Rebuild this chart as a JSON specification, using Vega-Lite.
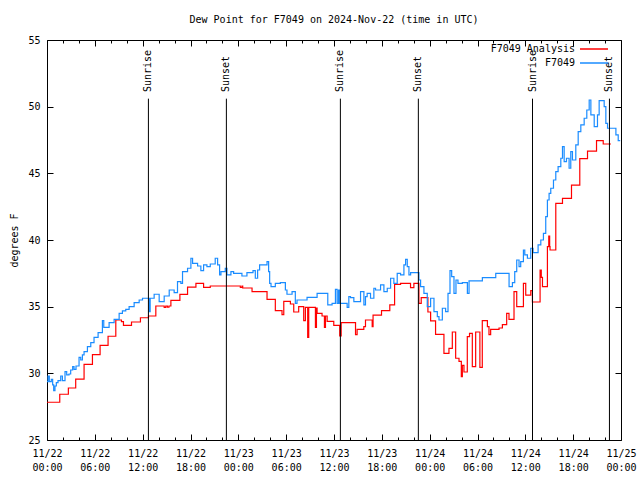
{
  "$schema": "https://vega.github.io/schema/vega-lite/v6.json",
  "width": 574,
  "height": 400,
  "autosize": {"type": "none"},
  "padding": {"left": 47, "top": 40, "right": 19, "bottom": 40},
  "background": "white",
  "config": {
    "view": {"stroke": "black", "strokeWidth": 1},
    "font": "DejaVu Sans Mono",
    "axis": {
      "labelFont": "DejaVu Sans Mono",
      "labelFontSize": 10,
      "labelColor": "black",
      "tickColor": "black",
      "tickWidth": 1,
      "domain": false,
      "grid": false,
      "titleFont": "DejaVu Sans Mono",
      "titleFontSize": 10,
      "titleFontWeight": "normal",
      "titleColor": "black"
    },
    "text": {"font": "DejaVu Sans Mono", "fontSize": 10}
  },
  "title": {
    "text": "Dew Point for F7049 on 2024-Nov-22 (time in UTC)",
    "font": "DejaVu Sans Mono",
    "fontSize": 10,
    "fontWeight": "normal",
    "color": "black",
    "offset": 10
  },
  "datasets": {
    "analysis": [
      {"t": 0, "v": 27.83}, {"t": 1.6, "v": 28.43}, {"t": 2.68, "v": 28.9}, {"t": 3.6, "v": 29.57},
      {"t": 4.65, "v": 30.67}, {"t": 5.7, "v": 31.4}, {"t": 6.66, "v": 32.1}, {"t": 7.66, "v": 32.78},
      {"t": 8.63, "v": 34.0}, {"t": 9.34, "v": 33.88}, {"t": 9.59, "v": 33.6}, {"t": 10.6, "v": 33.85},
      {"t": 11.72, "v": 34.17}, {"t": 12.73, "v": 34.3}, {"t": 13.65, "v": 35.05}, {"t": 14.7, "v": 34.95},
      {"t": 14.9, "v": 35.05}, {"t": 15.1, "v": 34.97}, {"t": 15.3, "v": 35.05}, {"t": 15.54, "v": 35.47},
      {"t": 16.67, "v": 35.92}, {"t": 17.63, "v": 36.47}, {"t": 18.68, "v": 36.75}, {"t": 19.64, "v": 36.45},
      {"t": 20.48, "v": 36.55}, {"t": 24.25, "v": 36.45}, {"t": 24.46, "v": 36.55}, {"t": 24.55, "v": 36.4},
      {"t": 25.72, "v": 36.13}, {"t": 27.6, "v": 35.55}, {"t": 28.64, "v": 34.7}, {"t": 29.48, "v": 34.4},
      {"t": 29.7, "v": 35.4}, {"t": 30.53, "v": 35.2}, {"t": 30.95, "v": 34.6}, {"t": 31.57, "v": 35.0},
      {"t": 32.2, "v": 33.95}, {"t": 32.41, "v": 34.95}, {"t": 32.7, "v": 32.7}, {"t": 32.83, "v": 34.95},
      {"t": 33.67, "v": 33.45}, {"t": 33.8, "v": 34.9}, {"t": 33.88, "v": 34.5}, {"t": 34.5, "v": 34.3},
      {"t": 34.8, "v": 33.45}, {"t": 34.93, "v": 34.3}, {"t": 35.14, "v": 33.9}, {"t": 35.97, "v": 33.6},
      {"t": 36.72, "v": 32.8}, {"t": 36.9, "v": 33.8}, {"t": 38.7, "v": 32.9}, {"t": 38.9, "v": 33.3},
      {"t": 39.74, "v": 33.5}, {"t": 39.95, "v": 34.0}, {"t": 40.79, "v": 33.5}, {"t": 40.9, "v": 34.37},
      {"t": 41.96, "v": 34.7}, {"t": 43.0, "v": 35.13}, {"t": 43.6, "v": 36.67}, {"t": 44.35, "v": 36.75},
      {"t": 45.6, "v": 36.43}, {"t": 46.02, "v": 36.75}, {"t": 46.65, "v": 35.25}, {"t": 46.94, "v": 35.68},
      {"t": 47.78, "v": 34.6}, {"t": 48.12, "v": 33.93}, {"t": 48.74, "v": 32.92}, {"t": 49.79, "v": 31.5},
      {"t": 50.42, "v": 31.87}, {"t": 50.84, "v": 33.1}, {"t": 51.26, "v": 31.13}, {"t": 51.68, "v": 30.9},
      {"t": 51.97, "v": 29.75}, {"t": 52.1, "v": 30.6}, {"t": 52.3, "v": 30.1}, {"t": 52.72, "v": 32.75},
      {"t": 53.0, "v": 33.0}, {"t": 53.35, "v": 30.5}, {"t": 53.77, "v": 33.1}, {"t": 54.3, "v": 30.45},
      {"t": 54.6, "v": 33.95}, {"t": 55.24, "v": 33.5}, {"t": 55.44, "v": 32.9}, {"t": 55.65, "v": 33.3},
      {"t": 56.7, "v": 33.4}, {"t": 57.12, "v": 33.65}, {"t": 57.66, "v": 34.5}, {"t": 57.95, "v": 34.05},
      {"t": 58.58, "v": 36.13}, {"t": 58.92, "v": 35.0}, {"t": 59.76, "v": 36.75}, {"t": 60.05, "v": 35.87},
      {"t": 60.68, "v": 36.2}, {"t": 60.89, "v": 35.35}, {"t": 61.85, "v": 37.75}, {"t": 62.0, "v": 37.2},
      {"t": 62.15, "v": 36.5}, {"t": 62.77, "v": 39.5}, {"t": 62.94, "v": 40.3}, {"t": 63.05, "v": 39.5},
      {"t": 63.1, "v": 39.25}, {"t": 63.82, "v": 42.75}, {"t": 64.66, "v": 43.12}, {"t": 65.79, "v": 44.12},
      {"t": 66.83, "v": 46.1}, {"t": 67.8, "v": 46.67}, {"t": 68.93, "v": 47.45}, {"t": 69.77, "v": 47.2},
      {"t": 70.73, "v": 47.2}
    ],
    "station": [
      {"t": 0, "v": 29.38}, {"t": 0.13, "v": 29.8}, {"t": 0.29, "v": 29.38}, {"t": 0.54, "v": 29.55},
      {"t": 0.71, "v": 29.13}, {"t": 0.84, "v": 28.7}, {"t": 1.0, "v": 29.05}, {"t": 1.17, "v": 29.3},
      {"t": 1.38, "v": 29.45}, {"t": 1.72, "v": 29.8}, {"t": 1.93, "v": 29.45}, {"t": 2.26, "v": 30.13},
      {"t": 2.47, "v": 29.88}, {"t": 2.76, "v": 29.95}, {"t": 2.97, "v": 30.25}, {"t": 3.22, "v": 30.5},
      {"t": 3.39, "v": 30.3}, {"t": 3.64, "v": 30.55}, {"t": 4.02, "v": 31.2}, {"t": 4.23, "v": 31.0},
      {"t": 4.44, "v": 31.38}, {"t": 4.65, "v": 31.63}, {"t": 5.07, "v": 32.0}, {"t": 5.49, "v": 32.3},
      {"t": 5.9, "v": 32.7}, {"t": 6.41, "v": 33.05}, {"t": 6.95, "v": 33.95}, {"t": 7.12, "v": 33.45},
      {"t": 7.79, "v": 33.8}, {"t": 8.42, "v": 34.05}, {"t": 9.05, "v": 34.5}, {"t": 9.46, "v": 34.68},
      {"t": 9.88, "v": 34.8}, {"t": 10.3, "v": 35.0}, {"t": 10.93, "v": 35.3}, {"t": 11.56, "v": 35.5},
      {"t": 11.98, "v": 35.63}, {"t": 12.81, "v": 34.63}, {"t": 12.94, "v": 35.63}, {"t": 13.44, "v": 35.93},
      {"t": 14.07, "v": 35.38}, {"t": 14.7, "v": 35.8}, {"t": 15.33, "v": 36.25}, {"t": 15.95, "v": 36.05},
      {"t": 16.37, "v": 36.88}, {"t": 16.79, "v": 36.75}, {"t": 17.0, "v": 37.63}, {"t": 17.63, "v": 37.88},
      {"t": 18.05, "v": 38.63}, {"t": 18.26, "v": 38.25}, {"t": 18.89, "v": 38.05}, {"t": 19.3, "v": 37.7},
      {"t": 19.64, "v": 38.13}, {"t": 20.06, "v": 38.0}, {"t": 20.48, "v": 38.2}, {"t": 21.1, "v": 38.63},
      {"t": 21.4, "v": 38.13}, {"t": 21.65, "v": 37.38}, {"t": 21.82, "v": 37.63}, {"t": 22.36, "v": 37.88},
      {"t": 22.57, "v": 37.38}, {"t": 23.07, "v": 37.63}, {"t": 23.41, "v": 37.5}, {"t": 24.45, "v": 37.3},
      {"t": 25.08, "v": 37.55}, {"t": 25.84, "v": 37.7}, {"t": 26.13, "v": 37.13}, {"t": 26.42, "v": 37.75},
      {"t": 26.67, "v": 38.13}, {"t": 27.6, "v": 38.38}, {"t": 27.8, "v": 37.63}, {"t": 27.93, "v": 36.75},
      {"t": 28.1, "v": 36.5}, {"t": 28.64, "v": 36.75}, {"t": 29.27, "v": 36.8}, {"t": 29.9, "v": 36.25},
      {"t": 30.1, "v": 35.93}, {"t": 30.74, "v": 36.13}, {"t": 31.15, "v": 35.25}, {"t": 31.36, "v": 35.5},
      {"t": 32.62, "v": 35.7}, {"t": 33.88, "v": 36.0}, {"t": 35.22, "v": 35.13}, {"t": 35.76, "v": 35.25},
      {"t": 36.18, "v": 36.3}, {"t": 36.39, "v": 35.25}, {"t": 36.56, "v": 36.25}, {"t": 36.72, "v": 35.25},
      {"t": 37.65, "v": 34.95}, {"t": 37.86, "v": 35.75}, {"t": 38.07, "v": 35.68}, {"t": 38.49, "v": 35.38},
      {"t": 39.33, "v": 36.13}, {"t": 39.75, "v": 35.13}, {"t": 39.95, "v": 35.75}, {"t": 40.16, "v": 36.0},
      {"t": 40.58, "v": 35.63}, {"t": 41.0, "v": 36.38}, {"t": 41.21, "v": 36.25}, {"t": 41.84, "v": 36.63},
      {"t": 42.26, "v": 36.13}, {"t": 42.68, "v": 36.38}, {"t": 43.1, "v": 37.13}, {"t": 43.51, "v": 36.75},
      {"t": 43.93, "v": 37.5}, {"t": 44.35, "v": 37.38}, {"t": 44.77, "v": 38.13}, {"t": 44.98, "v": 38.55},
      {"t": 45.19, "v": 38.0}, {"t": 45.4, "v": 37.38}, {"t": 45.61, "v": 37.55}, {"t": 46.65, "v": 37.0},
      {"t": 46.86, "v": 36.5}, {"t": 47.28, "v": 36.0}, {"t": 47.7, "v": 35.0}, {"t": 48.12, "v": 35.63},
      {"t": 48.54, "v": 34.63}, {"t": 48.96, "v": 34.25}, {"t": 49.17, "v": 34.0}, {"t": 49.59, "v": 34.88},
      {"t": 50.0, "v": 34.63}, {"t": 50.3, "v": 36.0}, {"t": 50.55, "v": 37.7}, {"t": 50.76, "v": 37.25},
      {"t": 51.05, "v": 36.0}, {"t": 51.3, "v": 37.0}, {"t": 51.55, "v": 36.75}, {"t": 52.1, "v": 36.8},
      {"t": 52.73, "v": 36.0}, {"t": 52.94, "v": 36.93}, {"t": 54.61, "v": 37.18}, {"t": 56.29, "v": 37.5},
      {"t": 57.96, "v": 36.5}, {"t": 58.38, "v": 36.8}, {"t": 58.67, "v": 37.63}, {"t": 58.92, "v": 38.5},
      {"t": 59.21, "v": 38.0}, {"t": 59.42, "v": 38.38}, {"t": 59.76, "v": 39.25}, {"t": 59.93, "v": 38.88},
      {"t": 60.26, "v": 38.63}, {"t": 60.68, "v": 39.38}, {"t": 60.97, "v": 39.05}, {"t": 61.6, "v": 39.63},
      {"t": 61.94, "v": 40.0}, {"t": 62.27, "v": 40.5}, {"t": 62.56, "v": 41.75}, {"t": 62.77, "v": 43.0},
      {"t": 62.98, "v": 43.5}, {"t": 63.19, "v": 43.88}, {"t": 63.53, "v": 44.5}, {"t": 63.82, "v": 45.13},
      {"t": 64.11, "v": 45.5}, {"t": 64.45, "v": 46.13}, {"t": 64.66, "v": 47.0}, {"t": 64.87, "v": 45.88},
      {"t": 65.16, "v": 46.13}, {"t": 65.49, "v": 45.38}, {"t": 65.7, "v": 46.63}, {"t": 65.91, "v": 46.0},
      {"t": 66.33, "v": 47.13}, {"t": 66.63, "v": 48.13}, {"t": 66.96, "v": 48.63}, {"t": 67.38, "v": 49.13},
      {"t": 67.71, "v": 49.75}, {"t": 68.01, "v": 50.5}, {"t": 68.22, "v": 49.38}, {"t": 68.64, "v": 48.5},
      {"t": 69.05, "v": 49.38}, {"t": 69.26, "v": 50.45}, {"t": 69.89, "v": 50.0}, {"t": 70.1, "v": 48.75},
      {"t": 70.31, "v": 48.38}, {"t": 71.36, "v": 47.88}, {"t": 71.65, "v": 47.45}, {"t": 71.9, "v": 47.45}
    ],
    "sun": [
      {"t": 12.72, "event": "Sunrise"},
      {"t": 22.5, "event": "Sunset"},
      {"t": 36.8, "event": "Sunrise"},
      {"t": 46.58, "event": "Sunset"},
      {"t": 60.9, "event": "Sunrise"},
      {"t": 70.55, "event": "Sunset"}
    ]
  },
  "layer": [
    {
      "data": {"name": "analysis"},
      "mark": {"type": "line", "interpolate": "step-after", "strokeWidth": 1.2},
      "encoding": {
        "x": {
          "field": "t",
          "type": "quantitative",
          "scale": {"domain": [0, 72], "nice": false, "zero": false},
          "axis": {
            "orient": "bottom",
            "title": null,
            "values": [0,2,4,6,8,10,12,14,16,18,20,22,24,26,28,30,32,34,36,38,40,42,44,46,48,50,52,54,56,58,60,62,64,66,68,70,72],
            "tickSize": {"condition": {"test": "datum.value % 6 === 0", "value": -6}, "value": -3},
            "labelPadding": 14,
            "labelLineHeight": 14,
            "labelFlush": false,
            "labelOverlap": false,
            "labelExpr": "datum.value % 6 === 0 ? ['11/' + (22 + floor(datum.value / 24)), (datum.value % 24 < 10 ? '0' : '') + (datum.value % 24) + ':00'] : ''"
          }
        },
        "y": {
          "field": "v",
          "type": "quantitative",
          "scale": {"domain": [25, 55], "nice": false, "zero": false},
          "axis": {
            "orient": "left",
            "title": "degrees F",
            "values": [25, 30, 35, 40, 45, 50, 55],
            "tickSize": -6,
            "labelPadding": 13,
            "titlePadding": 8
          }
        },
        "color": {
          "datum": "F7049 Analysis",
          "scale": {"domain": ["F7049 Analysis", "F7049"], "range": ["#ff0000", "#1a8cff"]},
          "legend": {
            "orient": "none",
            "legendX": 539,
            "legendY": 1,
            "title": null,
            "symbolType": "M-2,0H2",
            "symbolSize": 196,
            "symbolStrokeWidth": 1.5,
            "symbolFillColor": "transparent",
            "labelAlign": "right",
            "labelOffset": -27,
            "labelFont": "DejaVu Sans Mono",
            "labelFontSize": 10,
            "labelColor": "black",
            "rowPadding": 1
          }
        }
      }
    },
    {
      "data": {"name": "station"},
      "mark": {"type": "line", "interpolate": "step-after", "strokeWidth": 1.2},
      "encoding": {
        "x": {
          "field": "t",
          "type": "quantitative",
          "axis": {
            "orient": "top",
            "title": null,
            "labels": false,
            "values": [0,2,4,6,8,10,12,14,16,18,20,22,24,26,28,30,32,34,36,38,40,42,44,46,48,50,52,54,56,58,60,62,64,66,68,70,72],
            "tickSize": {"condition": {"test": "datum.value % 6 === 0", "value": -6}, "value": -3}
          }
        },
        "y": {
          "field": "v",
          "type": "quantitative",
          "axis": {
            "orient": "right",
            "title": null,
            "labels": false,
            "values": [25, 30, 35, 40, 45, 50, 55],
            "tickSize": -6
          }
        },
        "color": {"datum": "F7049"}
      }
    },
    {
      "data": {"name": "sun"},
      "mark": {"type": "rule", "color": "black", "strokeWidth": 1},
      "encoding": {
        "x": {"field": "t", "type": "quantitative", "axis": null},
        "y": {"datum": 50.6, "type": "quantitative", "axis": null},
        "y2": {"datum": 25}
      }
    },
    {
      "data": {"name": "sun"},
      "mark": {"type": "text", "angle": 270, "align": "left", "baseline": "middle", "color": "black", "font": "DejaVu Sans Mono", "fontSize": 10},
      "encoding": {
        "x": {"field": "t", "type": "quantitative", "axis": null},
        "y": {"datum": 51.1, "type": "quantitative", "axis": null},
        "text": {"field": "event"}
      }
    }
  ]
}
